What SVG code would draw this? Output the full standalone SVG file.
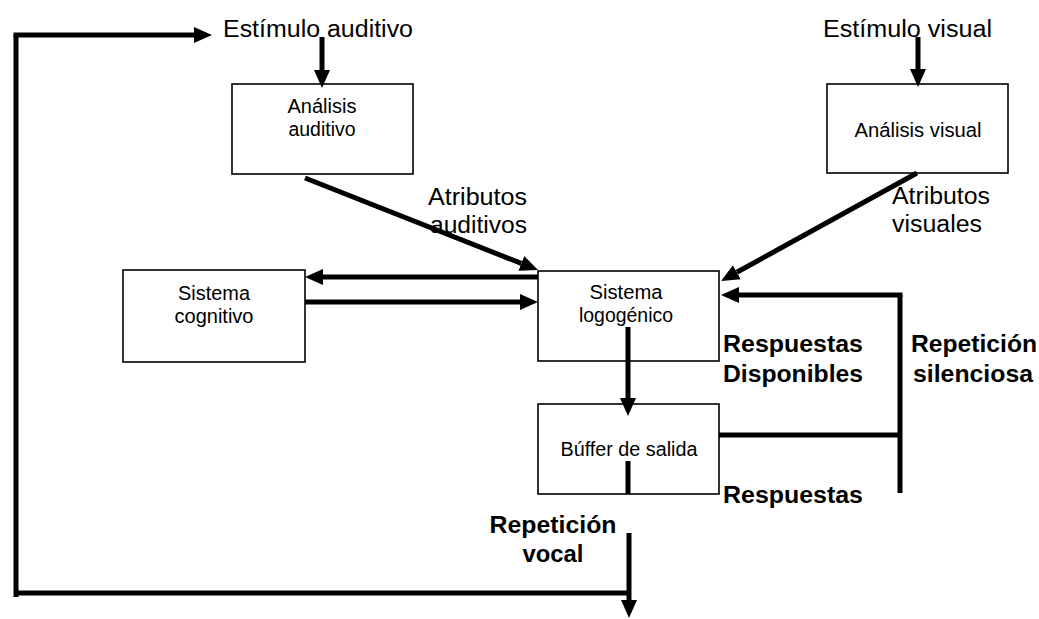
<svg xmlns="http://www.w3.org/2000/svg" width="1039" height="619" viewBox="0 0 1039 619">
  <style>
    .box { fill: #ffffff; stroke: #000000; stroke-width: 1.6; }
    .lbl { font-family: "Liberation Sans", Arial, sans-serif; font-size: 19.5px; fill: #000000; text-anchor: middle; }
    .big { font-family: "Liberation Sans", Arial, sans-serif; font-size: 23px; fill: #000000; }
    .bold { font-family: "Liberation Sans", Arial, sans-serif; font-size: 23px; font-weight: bold; fill: #000000; text-anchor: middle; }
    .wire { fill: none; stroke: #000000; stroke-width: 5; }
    .arrow { fill: none; stroke: #000000; stroke-width: 5; marker-end: url(#head); }
  </style>
  <defs>
    <marker id="head" markerUnits="userSpaceOnUse" markerWidth="20" markerHeight="18" viewBox="0 -9 20 18" refX="0" refY="0" orient="auto">
      <path d="M0,-8 L18,0 L0,8 z" fill="#000000"/>
    </marker>
  </defs>
  <rect width="1039" height="619" fill="#ffffff"/>

  <!-- free-standing labels -->
  <g id="estimulo-auditivo">
    <text class="big" x="223" y="37" textLength="190" lengthAdjust="spacingAndGlyphs">Estímulo auditivo</text>
  </g>
  <g id="estimulo-visual">
    <text class="big" x="823" y="37" textLength="169" lengthAdjust="spacingAndGlyphs">Estímulo visual</text>
  </g>

  <!-- processing boxes -->
  <g id="analisis-auditivo">
    <rect class="box" x="232" y="84" width="181" height="90"/>
    <text class="lbl" x="322" y="113" textLength="69" lengthAdjust="spacingAndGlyphs">Análisis</text>
    <text class="lbl" x="322" y="136" textLength="67" lengthAdjust="spacingAndGlyphs">auditivo</text>
  </g>
  <g id="analisis-visual">
    <rect class="box" x="827" y="84" width="181" height="89"/>
    <text class="lbl" x="918" y="137" textLength="127" lengthAdjust="spacingAndGlyphs">Análisis visual</text>
  </g>
  <g id="sistema-cognitivo">
    <rect class="box" x="123" y="270" width="182" height="92"/>
    <text class="lbl" x="214" y="300" textLength="72" lengthAdjust="spacingAndGlyphs">Sistema</text>
    <text class="lbl" x="214" y="323" textLength="79" lengthAdjust="spacingAndGlyphs">cognitivo</text>
  </g>
  <g id="sistema-logogenico">
    <rect class="box" x="538" y="271" width="181" height="90"/>
    <text class="lbl" x="626" y="299" textLength="73" lengthAdjust="spacingAndGlyphs">Sistema</text>
    <text class="lbl" x="626" y="322" textLength="94" lengthAdjust="spacingAndGlyphs">logogénico</text>
  </g>
  <g id="buffer-salida">
    <rect class="box" x="538" y="404" width="181" height="90"/>
    <text class="lbl" x="629" y="456" textLength="137" lengthAdjust="spacingAndGlyphs">Búffer de salida</text>
  </g>

  <!-- connectors -->
  <g id="connectors">
    <!-- vocal repetition loop back to the auditory stimulus -->
    <polyline class="wire" points="629,593 16,593"/>
    <polyline class="wire" points="16,597 16,35"/>
    <polyline class="arrow" points="13.5,35 194,35"/>
    <polyline class="arrow" points="629,533 629,600"/>
    <!-- stimuli into analysis -->
    <polyline class="arrow" points="322,37 322,70"/>
    <polyline class="arrow" points="918,37 918,69"/>
    <!-- attributes into the logogen system -->
    <polyline class="arrow" points="305,178 521.3,263.4"/>
    <polyline class="arrow" points="917,173 736.8,272.3"/>
    <!-- logogen system and cognitive system -->
    <polyline class="arrow" points="538,277 323,277"/>
    <polyline class="arrow" points="305,302 520,302"/>
    <!-- available responses into the output buffer -->
    <polyline class="arrow" points="628,327 628,398"/>
    <polyline class="wire" points="628,461 628,494"/>
    <!-- silent repetition -->
    <polyline class="wire" points="719,435 900,435"/>
    <polyline class="wire" points="900,493 900,295"/>
    <polyline class="arrow" points="902.5,295 739,295"/>
  </g>

  <!-- connector labels -->
  <g id="connector-labels">
    <text class="big" x="428" y="205" textLength="99" lengthAdjust="spacingAndGlyphs">Atributos</text>
    <text class="big" x="430" y="233" textLength="97" lengthAdjust="spacingAndGlyphs">auditivos</text>
    <text class="big" x="892" y="204" textLength="98" lengthAdjust="spacingAndGlyphs">Atributos</text>
    <text class="big" x="892" y="232" textLength="90" lengthAdjust="spacingAndGlyphs">visuales</text>
    <text class="bold" x="793" y="352" textLength="140" lengthAdjust="spacingAndGlyphs">Respuestas</text>
    <text class="bold" x="793" y="382" textLength="140" lengthAdjust="spacingAndGlyphs">Disponibles</text>
    <text class="bold" x="974" y="352" textLength="126" lengthAdjust="spacingAndGlyphs">Repetición</text>
    <text class="bold" x="973" y="382" textLength="120" lengthAdjust="spacingAndGlyphs">silenciosa</text>
    <text class="bold" x="793" y="503" textLength="140" lengthAdjust="spacingAndGlyphs">Respuestas</text>
    <text class="bold" x="553" y="533" textLength="127" lengthAdjust="spacingAndGlyphs">Repetición</text>
    <text class="bold" x="553" y="562" textLength="61" lengthAdjust="spacingAndGlyphs">vocal</text>
  </g>
</svg>
